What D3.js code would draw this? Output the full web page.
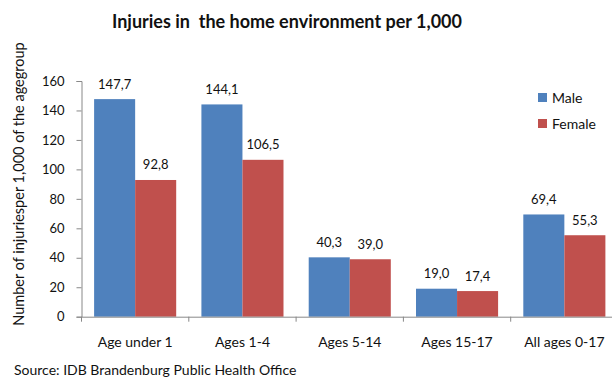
<!DOCTYPE html>
<html>
<head>
<meta charset="utf-8">
<script src="https://cdn.jsdelivr.net/npm/d3@7/dist/d3.min.js"></script>
<style>
  html, body { margin: 0; padding: 0; background: #fff; }
  svg { display: block; font-family: Lato, "Open Sans", sans-serif; }
</style>
</head>
<body>
<svg id="chart" width="612" height="380"></svg>
<script>
// Injuries in the home environment per 1,000 of the age group
const categories = ["Age under 1", "Ages 1-4", "Ages 5-14", "Ages 15-17", "All ages 0-17"];
const seriesNames = ["Male", "Female"];
const male = [147.7, 144.1, 40.3, 19.0, 69.4];
const female = [92.8, 106.5, 39.0, 17.4, 55.3];
const yTicks = [0, 20, 40, 60, 80, 100, 120, 140, 160];
const colors = ["#4F81BD", "#C0504D"];

const svg = d3.select("#chart");
const fmt = v => v.toFixed(1).replace(".", ",");

const x = d3.scaleBand().domain(categories).range([81.5, 618]).paddingInner(0.235).paddingOuter(0.1175);
const xs = d3.scaleBand().domain(seriesNames).range([0, x.bandwidth()]);
const y = d3.scaleLinear().domain([0, 160]).range([316.7, 81]);

const rows = categories.map((c, i) => ({ cat: c, vals: [male[i], female[i]] }));

// bars
const groups = svg.append("g").selectAll("g").data(rows).join("g")
  .attr("transform", d => `translate(${x(d.cat)},0)`);
groups.selectAll("rect").data(d => d.vals.map((v, j) => ({ v, s: seriesNames[j], j })))
  .join("rect")
  .attr("x", d => xs(d.s))
  .attr("width", xs.bandwidth())
  .attr("y", d => y(d.v))
  .attr("height", d => y(0) - y(d.v))
  .attr("fill", d => colors[d.j]);

// value labels
groups.selectAll("text").data(d => d.vals.map((v, j) => ({ v, s: seriesNames[j] })))
  .join("text")
  .attr("x", d => xs(d.s) + xs.bandwidth() / 2)
  .attr("y", d => y(d.v) - 10.5)
  .attr("text-anchor", "middle")
  .attr("font-size", 13)
  .attr("fill", "#111")
  .text(d => fmt(d.v));

// y axis
const yAxis = svg.append("g").attr("transform", "translate(81.5,0)")
  .call(d3.axisLeft(y).tickValues(yTicks).tickSize(5).tickPadding(12));
yAxis.select(".domain").attr("stroke", "#888");
yAxis.selectAll(".tick line").attr("stroke", "#888");
yAxis.selectAll(".tick text").attr("font-size", 13).attr("fill", "#111").attr("font-family", "Lato, sans-serif");

// x axis
const xAxis = svg.append("g").attr("transform", `translate(0,${y(0)})`)
  .call(d3.axisBottom(x).tickSize(0).tickPadding(20));
xAxis.select(".domain").attr("stroke", "#888");
xAxis.selectAll(".tick text").attr("font-size", 14).attr("fill", "#111").attr("font-family", "Lato, sans-serif");
// category separators
svg.append("g").selectAll("line").data(categories.concat(["end"]))
  .join("line")
  .attr("x1", (d, i) => i < categories.length ? x(d) - x.step() * x.paddingInner() / 2 : x.range()[1])
  .attr("x2", (d, i) => i < categories.length ? x(d) - x.step() * x.paddingInner() / 2 : x.range()[1])
  .attr("y1", y(0)).attr("y2", y(0) + 5)
  .attr("stroke", "#888");

// title
svg.append("text").attr("x", 287).attr("y", 28.3).attr("text-anchor", "middle")
  .attr("font-size", 18).attr("font-weight", "bold").attr("fill", "#111")
  .attr("xml:space", "preserve")
  .text("Injuries in  the home environment per 1,000");

// y axis title
svg.append("text").attr("transform", "translate(24,184) rotate(-90)")
  .attr("text-anchor", "middle").attr("font-size", 14.5).attr("fill", "#111")
  .text("Number of injuriesper 1,000 of the agegroup");

// legend
const legend = svg.append("g").attr("transform", "translate(538,93)");
seriesNames.forEach((s, i) => {
  legend.append("rect").attr("x", 0).attr("y", i * 26).attr("width", 9).attr("height", 9).attr("fill", colors[i]);
  legend.append("text").attr("x", 14).attr("y", i * 26 + 9.5).attr("font-size", 14).attr("fill", "#111").text(s);
});

// source
svg.append("text").attr("x", 14).attr("y", 375).attr("font-size", 14).attr("fill", "#111")
  .text("Source: IDB Brandenburg Public Health Office");
</script>
</body>
</html>
